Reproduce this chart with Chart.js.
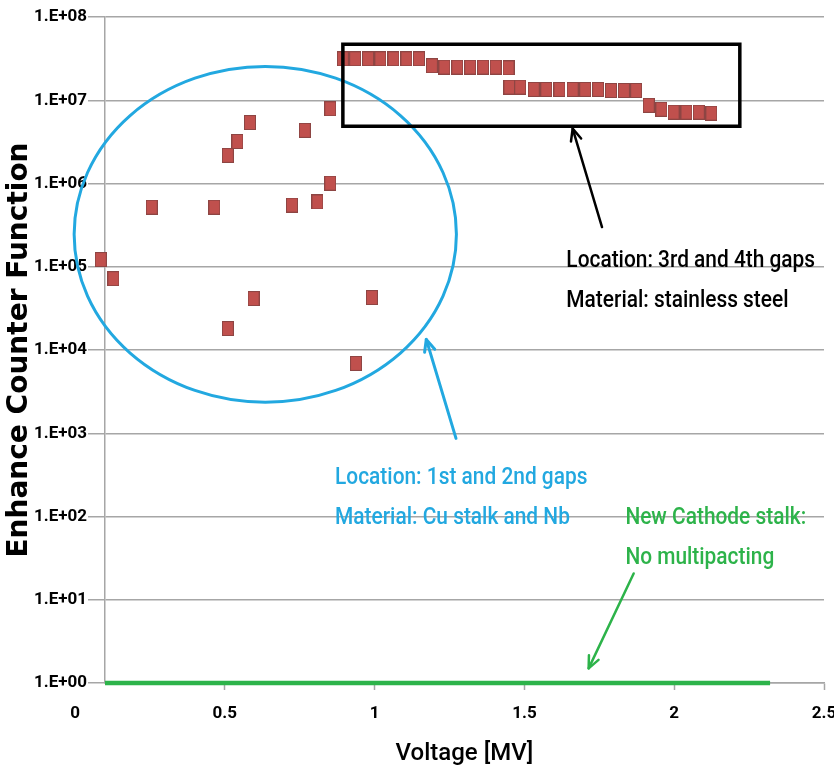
<!DOCTYPE html>
<html><head><meta charset="utf-8">
<script src="https://cdn.jsdelivr.net/npm/chart.js@4"></script>
<style>html,body{margin:0;padding:0;background:#fff}</style>
</head><body>
<canvas id="c" width="834" height="773"></canvas>
<script>
// ---- data ----
const xTickValues = [0, 0.5, 1, 1.5, 2, 2.5];
const xTickLabels = ['0', '0.5', '1', '1.5', '2', '2.5'];
const yTickValues = [1, 10, 100, 1e3, 1e4, 1e5, 1e6, 1e7, 1e8];
const yTickLabels = ['1.E+00', '1.E+01', '1.E+02', '1.E+03', '1.E+04', '1.E+05', '1.E+06', '1.E+07', '1.E+08'];

// 1st and 2nd gaps (Cu stalk and Nb)
const gap12Voltage = [0.086, 0.128, 0.256, 0.465, 0.510, 0.510, 0.542, 0.584, 0.596, 0.724, 0.767, 0.809, 0.852, 0.852, 0.938, 0.991];
const gap12Counter = [1.22e5, 7.2e4, 5.2e5, 5.2e5, 2.18e6, 1.81e4, 3.2e6, 5.4e6, 4.15e4, 5.5e5, 4.35e6, 6.0e5, 1.01e6, 7.9e6, 6.9e3, 4.27e4];

// 3rd and 4th gaps (stainless steel)
const gap34Voltage = [0.894, 0.935, 0.978, 1.019, 1.063, 1.106, 1.148,
  1.191, 1.233, 1.276, 1.319, 1.362, 1.404, 1.447,
  1.450, 1.486, 1.531, 1.573, 1.617, 1.661, 1.703, 1.746, 1.789, 1.832, 1.873,
  1.915, 1.957, 1.998, 2.041, 2.082, 2.124];
const gap34Counter = [3.15e7, 3.15e7, 3.15e7, 3.15e7, 3.15e7, 3.15e7, 3.15e7,
  2.6e7, 2.5e7, 2.5e7, 2.5e7, 2.5e7, 2.5e7, 2.45e7,
  1.44e7, 1.44e7, 1.35e7, 1.35e7, 1.35e7, 1.35e7, 1.35e7, 1.35e7, 1.31e7, 1.31e7, 1.31e7,
  8.7e6, 7.8e6, 7.2e6, 7.2e6, 7.2e6, 7.0e6];

// New cathode stalk: no multipacting
const cathodeVoltage = [0.1, 2.32];
const cathodeCounter = [1, 1];

// ---- styling / annotations (in data coordinates) ----
const FONT = "Roboto, 'Liberation Sans', sans-serif";
const RED = '#C0504D', BLUE = '#22A8E0', GREEN = '#2DB34A', GRID = '#A6A6A6';
const TEXT_SCALE_X = 0.87;

const annotations = {
  ellipse: {xMin: -0.003, xMax: 1.273, yMin: 2.36e3, yMax: 2.55e7, color: BLUE, width: 3},
  box: {xMin: 0.894, xMax: 2.219, yMin: 4.86e6, yMax: 4.69e7, color: '#000', width: 3.5},
  arrows: [
    {from: [1.759, 3.0e5], to: [1.661, 4.56e6], color: '#000', width: 2.5},
    {from: [1.2716, 867], to: [1.1724, 1.34e4], color: BLUE, width: 3},
    {from: [1.8647, 20.7], to: [1.7144, 1.5], color: GREEN, width: 2.5}
  ],
  texts: [
    {x: 1.640, y: 1.0e5, text: 'Location: 3rd and 4th gaps', color: '#000'},
    {x: 1.640, y: 3.29e4, text: 'Material: stainless steel', color: '#000'},
    {x: 0.868, y: 245, text: 'Location: 1st and 2nd gaps', color: BLUE},
    {x: 0.868, y: 81, text: 'Material: Cu stalk and Nb', color: BLUE},
    {x: 1.837, y: 81.3, text: 'New Cathode stalk:', color: GREEN},
    {x: 1.837, y: 26.8, text: 'No multipacting', color: GREEN}
  ]
};

function makeMarker() {
  const c = document.createElement('canvas');
  c.width = 12; c.height = 15;
  const g = c.getContext('2d');
  g.fillStyle = RED;
  g.fillRect(0, 0, 12, 15);
  g.strokeStyle = '#5a3a3a';
  g.lineWidth = 1;
  g.setLineDash([1, 1]);
  g.strokeRect(0.5, 0.5, 11, 14);
  return c;
}
const marker = makeMarker();

const annotationPlugin = {
  id: 'annot',
  afterDatasetsDraw(chart) {
    const ctx = chart.ctx, xs = chart.scales.x, ys = chart.scales.y;
    const px = v => xs.getPixelForValue(v), py = v => ys.getPixelForValue(v);
    ctx.save();
    const e = annotations.ellipse;
    const ex1 = px(e.xMin), ex2 = px(e.xMax), ey1 = py(e.yMax), ey2 = py(e.yMin);
    ctx.beginPath();
    ctx.ellipse((ex1 + ex2) / 2, (ey1 + ey2) / 2, (ex2 - ex1) / 2, (ey2 - ey1) / 2, 0, 0, Math.PI * 2);
    ctx.strokeStyle = e.color; ctx.lineWidth = e.width; ctx.stroke();
    const b = annotations.box;
    ctx.beginPath();
    ctx.rect(px(b.xMin), py(b.yMax), px(b.xMax) - px(b.xMin), py(b.yMin) - py(b.yMax));
    ctx.strokeStyle = b.color; ctx.lineWidth = b.width; ctx.stroke();
    annotations.arrows.forEach(a => {
      const x1 = px(a.from[0]), y1 = py(a.from[1]), x2 = px(a.to[0]), y2 = py(a.to[1]);
      const ang = Math.atan2(y2 - y1, x2 - x1), L = 13, spread = 0.42;
      ctx.strokeStyle = a.color; ctx.lineWidth = a.width; ctx.lineCap = 'round'; ctx.lineJoin = 'round';
      ctx.beginPath(); ctx.moveTo(x1, y1); ctx.lineTo(x2, y2); ctx.stroke();
      ctx.beginPath();
      ctx.moveTo(x2 - L * Math.cos(ang - spread), y2 - L * Math.sin(ang - spread));
      ctx.lineTo(x2, y2);
      ctx.lineTo(x2 - L * Math.cos(ang + spread), y2 - L * Math.sin(ang + spread));
      ctx.stroke();
    });
    ctx.font = '500 24px ' + FONT;
    ctx.textAlign = 'left'; ctx.textBaseline = 'alphabetic';
    annotations.texts.forEach(t => {
      ctx.save();
      ctx.translate(px(t.x), py(t.y));
      ctx.scale(TEXT_SCALE_X, 1);
      ctx.fillStyle = t.color;
      ctx.fillText(t.text, 0, 0);
      ctx.restore();
    });
    ctx.restore();
  }
};

new Chart(document.getElementById('c'), {
  type: 'scatter',
  data: {
    datasets: [
      {
        label: 'New Cathode stalk',
        data: cathodeVoltage.map((x, i) => ({x, y: cathodeCounter[i]})),
        showLine: true, borderColor: GREEN, borderWidth: 4.5, pointRadius: 0, clip: false
      },
      {
        label: '1st and 2nd gaps',
        data: gap12Voltage.map((x, i) => ({x, y: gap12Counter[i]})),
        pointStyle: marker, pointRadius: 7, backgroundColor: RED, borderColor: RED, clip: false
      },
      {
        label: '3rd and 4th gaps',
        data: gap34Voltage.map((x, i) => ({x, y: gap34Counter[i]})),
        pointStyle: marker, pointRadius: 7, backgroundColor: RED, borderColor: RED, clip: false
      }
    ]
  },
  options: {
    responsive: false, animation: false, devicePixelRatio: 1,
    layout: {padding: {top: 17, left: 0, right: 10, bottom: 0}},
    plugins: {legend: {display: false}, tooltip: {enabled: false}},
    scales: {
      x: {
        type: 'linear', min: 0.1, max: 2.5,
        afterBuildTicks: s => { s.ticks = xTickValues.map(v => ({value: v})); },
        afterFit: s => { s.height = 90; s.paddingLeft = 0; s.paddingRight = 0; },
        ticks: {
          autoSkip: false, maxRotation: 0, padding: 14, color: '#000',
          font: {family: FONT, size: 17, weight: 'bold'},
          callback: v => xTickLabels[xTickValues.indexOf(v)]
        },
        grid: {
          drawOnChartArea: false, drawTicks: true, tickLength: 7, tickWidth: 1.5,
          tickColor: c => (c.tick && c.tick.value === 0) ? 'rgba(0,0,0,0)' : GRID
        },
        border: {color: GRID, width: 1.5},
        title: {display: true, text: 'Voltage [MV]', color: '#000',
          font: {family: FONT, size: 24, weight: '500'}, padding: {top: 0, bottom: 5}}
      },
      y: {
        type: 'logarithmic', min: 1, max: 1e8,
        afterBuildTicks: s => { s.ticks = yTickValues.map(v => ({value: v})); },
        afterFit: s => { s.width = 105; },
        ticks: {
          autoSkip: false, padding: 1, color: '#000',
          font: {family: FONT, size: 17, weight: 'bold'},
          callback: v => yTickLabels[yTickValues.indexOf(v)]
        },
        grid: {color: GRID, lineWidth: 1.5, tickLength: 17},
        border: {color: GRID, width: 1.5},
        title: {display: true, text: 'Enhance Counter Function', color: '#000',
          font: {family: "'DejaVu Sans', sans-serif", size: 28, weight: 'bold'}, padding: {top: 3, bottom: 0}}
      }
    }
  },
  plugins: [annotationPlugin]
});
</script>
</body></html>
